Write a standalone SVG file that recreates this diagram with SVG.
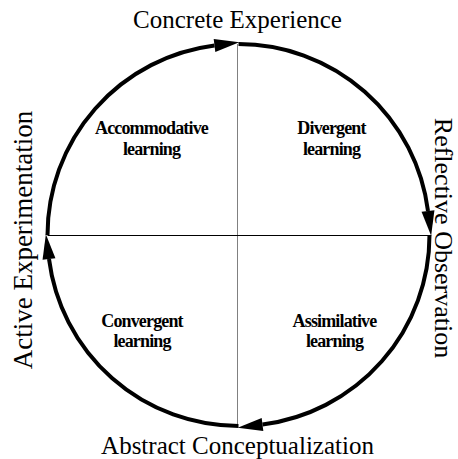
<svg xmlns="http://www.w3.org/2000/svg" width="458" height="459" viewBox="0 0 458 459">
<style>
.axis{font-family:"Liberation Serif","Times New Roman",serif;font-size:25px;fill:#000;text-anchor:middle}
.side{font-size:27px}
.lbl{font-family:"Liberation Serif","Times New Roman",serif;font-size:18px;font-weight:bold;letter-spacing:-0.85px;fill:#000;text-anchor:middle}
.arc{fill:none;stroke:#000;stroke-width:4;marker-end:url(#ah)}
</style>
<defs>
<marker id="ah" markerUnits="userSpaceOnUse" markerWidth="26" markerHeight="14" refX="0" refY="7" orient="auto" overflow="visible">
<path d="M0,0.5 L25,7 L0,13.5 Z" fill="#000"/>
</marker>
</defs>
<rect width="458" height="459" fill="#fff"/>
<g id="quadrant-lines">
<line x1="237.5" y1="44" x2="237.5" y2="426" stroke="#808080" stroke-width="1"/>
<line x1="47.5" y1="235.5" x2="429.5" y2="235.5" stroke="#000" stroke-width="1"/>
</g>
<g id="connectors">
<path class="arc" d="M47.5,235 A191,191 0 0 1 214.5,45.5"/>
<path class="arc" d="M238.5,44 A191,191 0 0 1 428,211"/>
<path class="arc" d="M429.5,235 A191,191 0 0 1 262.5,424.5"/>
<path class="arc" d="M238.5,426 A191,191 0 0 1 49,259"/>
</g>
<g id="concrete-experience"><text class="axis" x="237.5" y="28">Concrete Experience</text></g>
<g id="abstract-conceptualization"><text class="axis" x="237.5" y="454">Abstract Conceptualization</text></g>
<g id="active-experimentation"><text class="axis side" transform="translate(32,240) rotate(-90)">Active Experimentation</text></g>
<g id="reflective-observation"><text class="axis side" style="font-size:26px" transform="translate(435,238) rotate(90)">Reflective Observation</text></g>
<g id="accommodative"><text class="lbl" x="151.5" y="134">Accommodative</text><text class="lbl" x="151.5" y="155">learning</text></g>
<g id="divergent"><text class="lbl" x="331.5" y="134">Divergent</text><text class="lbl" x="331.5" y="155">learning</text></g>
<g id="convergent"><text class="lbl" x="142" y="327">Convergent</text><text class="lbl" x="142" y="347">learning</text></g>
<g id="assimilative"><text class="lbl" x="334.5" y="327">Assimilative</text><text class="lbl" x="334.5" y="347">learning</text></g>
</svg>
